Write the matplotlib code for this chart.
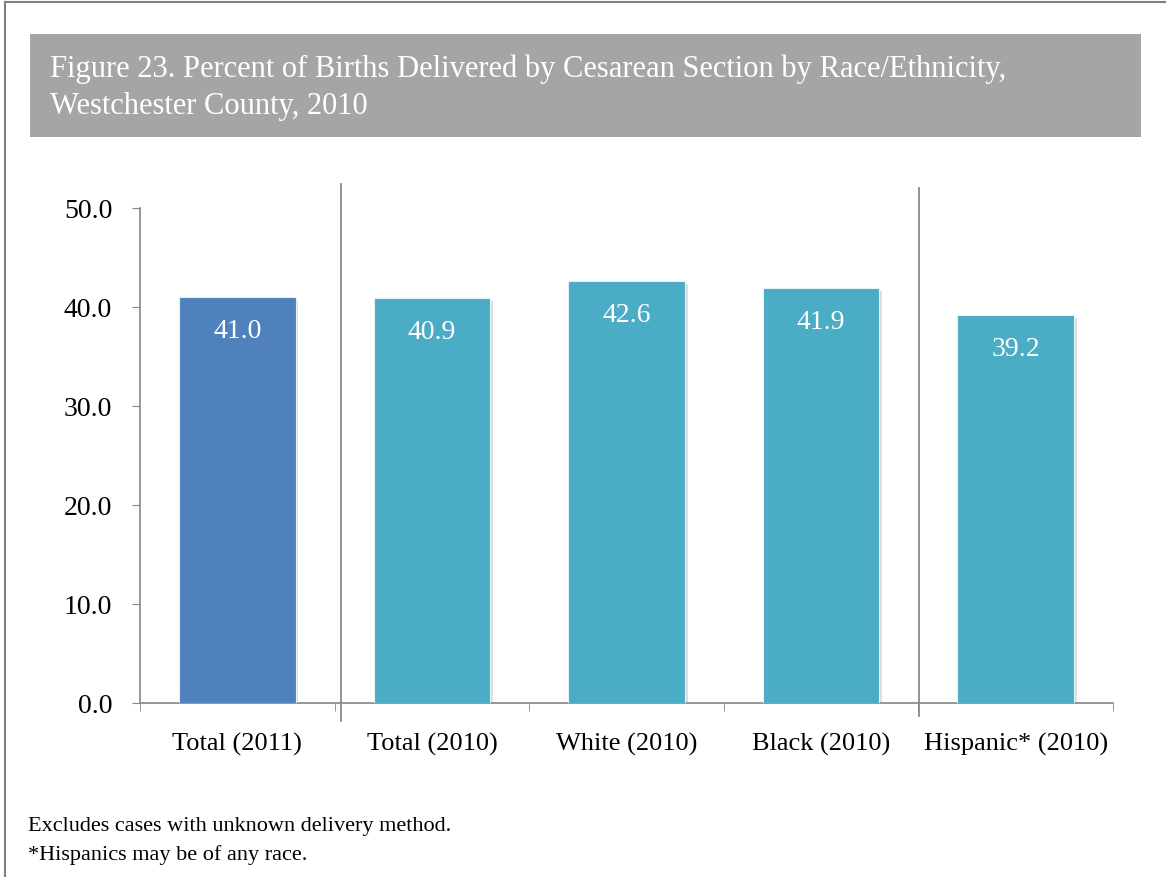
import matplotlib
matplotlib.use('Agg')
from matplotlib import pyplot as plt
from matplotlib import patheffects as pe
from matplotlib.lines import Line2D
from matplotlib.patches import Rectangle

categories = ['Total (2011)', 'Total (2010)', 'White (2010)', 'Black (2010)', 'Hispanic* (2010)']
values = [41.0, 40.9, 42.6, 41.9, 39.2]
bar_colors = ['#4f81bd', '#4bacc6', '#4bacc6', '#4bacc6', '#4bacc6']
yticks = [0, 10, 20, 30, 40, 50]

title = ('Figure 23. Percent of Births Delivered by Cesarean Section by Race/Ethnicity,\n'
         'Westchester County, 2010')
note1 = 'Excludes cases with unknown delivery method.'
note2 = '*Hispanics may be of any race.'

plt.rcParams['font.family'] = ['Liberation Serif', 'DejaVu Serif']

fig = plt.figure(figsize=(11.66, 8.78), dpi=100)

# outer frame (top and left only)
fig.add_artist(Line2D([5/1166, 5/1166], [0, 1 - 3/878], color='#808080', lw=1.5))
fig.add_artist(Line2D([5/1166, 1], [1 - 3/878, 1 - 3/878], color='#808080', lw=1.5))

# title box
fig.add_artist(Rectangle((30/1166, 1 - 138/878), (1141 - 30)/1166, (138 - 35)/878,
                         facecolor='#a5a5a5', edgecolor='none', transform=fig.transFigure))
fig.text(50/1166, 1 - 88/878, title, color='white', fontsize=22, va='center', ha='left',
         linespacing=1.38)

ax = fig.add_axes([140/1166, 1 - 704/878, (1113 - 140)/1166, (704 - 209)/878])

x = list(range(len(categories)))
bars = ax.bar(x, values, width=0.6, color=bar_colors, edgecolor='#e8f0f5', linewidth=0.8, zorder=3)
for b in bars:
    b.set_path_effects([pe.SimplePatchShadow(offset=(2, -2), shadow_rgbFace='#7f7f7f', alpha=0.25),
                        pe.Normal()])

for xi, v in zip(x, values):
    ax.annotate(f'{v:.1f}', (xi, v), xytext=(0, -24), textcoords='offset points',
                ha='center', va='center', color='white', fontsize=20, zorder=4)

ax.set_xlim(-0.5, len(categories) - 0.5)
ax.set_ylim(0, 50)
ax.set_yticks(yticks)
ax.set_yticklabels([f'{t:.1f}' for t in yticks], fontsize=20)
ax.set_xticks(x)
ax.set_xticklabels(categories, fontsize=19)
ax.set_xticks([i - 0.5 for i in range(len(categories) + 1)], minor=True)
ax.tick_params(axis='x', which='major', length=0, pad=21)
ax.tick_params(axis='x', which='minor', length=6, color='#868686', direction='out')
ax.tick_params(axis='y', length=6, color='#868686', pad=14)

for s in ['top', 'right']:
    ax.spines[s].set_visible(False)
for s in ['left', 'bottom']:
    ax.spines[s].set_color('#868686')
    ax.spines[s].set_linewidth(1.2)

# group separators
ax.axvline(0.533, ymin=-0.036, ymax=1.048, color='#7f7f7f', lw=1.2, clip_on=False)
ax.axvline(3.503, ymin=-0.026, ymax=1.04, color='#7f7f7f', lw=1.2, clip_on=False)

fig.text(28/1166, 1 - 827/878, note1, fontsize=16, va='center', ha='left')
fig.text(28/1166, 1 - 855/878, note2, fontsize=16, va='center', ha='left')

fig.savefig('out.png', dpi=100)
